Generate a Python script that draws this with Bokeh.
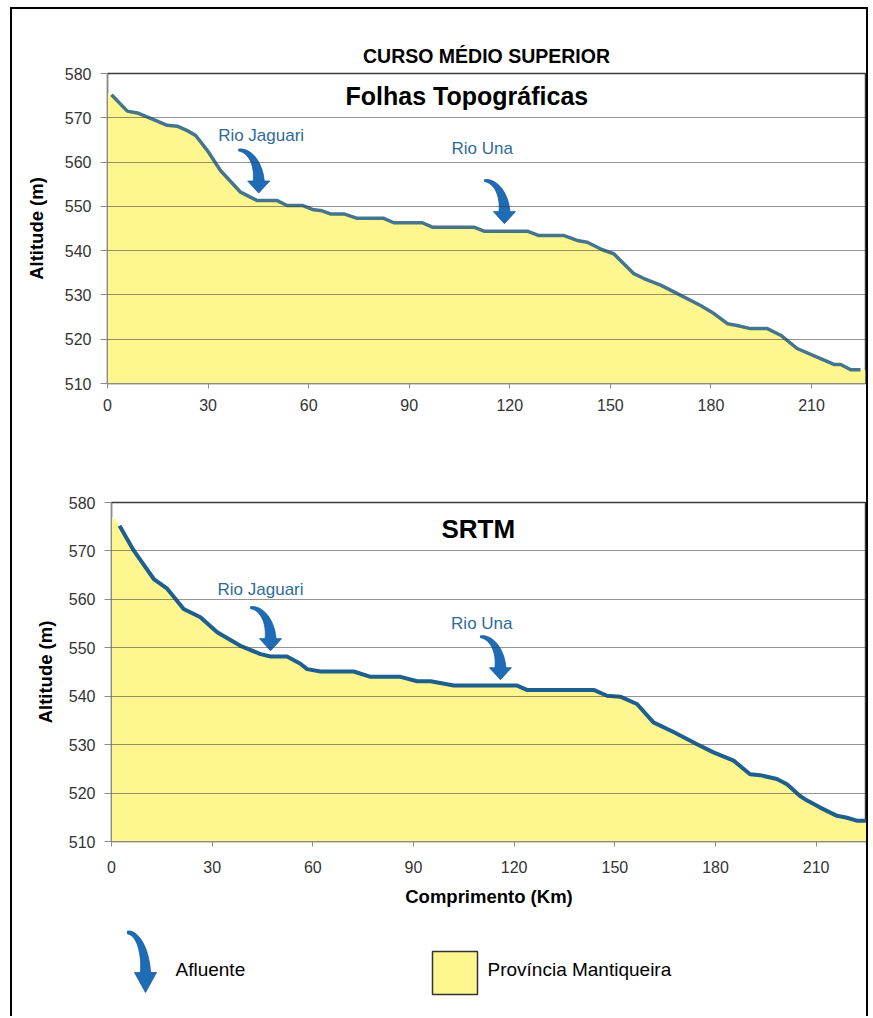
import math
from bokeh.plotting import figure
from bokeh.models import Range1d, Label, FixedTicker
from bokeh.layouts import column
from bokeh.embed import file_html
from bokeh.resources import INLINE

# ---------------- data ----------------
title_text = "CURSO MÉDIO SUPERIOR"
panel_titles = ["Folhas Topográficas", "SRTM"]
tributaries = ["Rio Jaguari", "Rio Una"]
x_ticks = [0, 30, 60, 90, 120, 150, 180, 210]
y_ticks = [510, 520, 530, 540, 550, 560, 570, 580]

# Folhas Topográficas profile (km, m)
topo_km = [1.2, 5.9, 8.9, 14.3, 17.8, 20.8, 23.8, 26.3, 29.8, 33.7, 39.7, 44.7, 50.6,
           53.6, 58.1, 61.1, 64.0, 66.5, 70.5, 74.5, 82.4, 85.4, 93.9, 96.9, 109.3,
           112.3, 125.2, 128.7, 136.2, 140.1, 143.1, 147.6, 151.0, 157.0, 160.0, 165.0,
           171.0, 176.9, 180.9, 184.9, 187.8, 191.8, 196.8, 200.8, 205.7, 212.7, 216.7,
           218.7, 221.7, 224.6]
topo_alt = [575.2, 571.5, 571.1, 569.4, 568.3, 568.1, 567.1, 566.0, 562.6, 558.1, 553.2,
            551.3, 551.3, 550.2, 550.2, 549.3, 549.0, 548.3, 548.3, 547.3, 547.3, 546.3,
            546.3, 545.3, 545.3, 544.4, 544.4, 543.4, 543.4, 542.3, 541.9, 540.2, 539.3,
            534.8, 533.7, 532.2, 529.9, 527.6, 525.8, 523.5, 523.1, 522.4, 522.4, 520.9,
            517.9, 515.6, 514.3, 514.3, 513.1, 513.1]
topo_fill_start = (0.0, 575.6)
topo_fill_end = (226.1, 513.0)

# SRTM profile (km, m)
srtm_km = [2.4, 6.6, 12.6, 16.6, 21.5, 26.5, 31.5, 38.4, 44.4, 47.4, 52.3, 56.3, 58.3,
           62.3, 72.2, 77.2, 86.1, 91.1, 95.1, 102.0, 120.9, 123.8, 143.7, 147.7, 151.6,
           156.6, 161.5, 167.5, 174.5, 179.4, 185.4, 190.3, 193.3, 198.3, 201.3, 205.2,
           207.2, 211.2, 216.2, 219.2, 222.1, 225.1]
srtm_alt = [575.2, 570.1, 564.2, 562.2, 558.0, 556.3, 553.2, 550.4, 548.7, 548.2, 548.2,
            546.7, 545.6, 545.1, 545.1, 544.0, 544.0, 543.1, 543.1, 542.2, 542.2, 541.3,
            541.3, 540.1, 539.9, 538.4, 534.6, 532.6, 530.1, 528.4, 526.7, 523.9, 523.7,
            522.9, 521.8, 519.4, 518.5, 517.0, 515.3, 514.9, 514.3, 514.3]
srtm_fill_start = (0.0, 577.3)
srtm_x_end = 225.0

# tributary confluences (arrow tips) and label anchors
topo_trib_km = [45.1, 118.4]
topo_trib_alt = [553.0, 546.1]
topo_label_km = [33.0, 102.6]
topo_label_alt = [566.1, 563.1]
srtm_trib_km = [47.4, 115.9]
srtm_trib_alt = [549.4, 543.4]
srtm_label_km = [31.6, 101.2]
srtm_label_alt = [562.1, 555.0]

legend_labels = ["Afluente", "Província Mantiqueira"]

# ---------------- style ----------------
FONT = "Liberation Sans"
YELLOW = "#fff68f"
ARROW_BLUE = "#1e6cb5"
LABEL_BLUE = "#2f6b9a"
TICK_COLOR = "#333333"
AXIS_GRAY = "#8c8c8c"


def arrow_patch(tip_x, tip_y, sx, sy, tail=(-20, -43), head_len=12, head_hw=11,
                w0=2.0, w1=11.0, n=28):
    """Curved arrow built in pixel offsets from the tip, converted to data units."""
    tdx, tdy = tail
    cx, cy = tdx, -head_len
    rx, ry = -tdx, -head_len - tdy
    outer, inner = [], []
    for i in range(n + 1):
        t = i / n
        th = (1 - t) * math.pi / 2
        w = w0 + (w1 - w0) * t
        outer.append((cx + (rx + w / 2) * math.cos(th), cy - (ry + w / 2) * math.sin(th)))
        inner.append((cx + (rx - w / 2) * math.cos(th), cy - (ry - w / 2) * math.sin(th)))
    pts = outer + [(head_hw, -head_len), (0, 0), (-head_hw, -head_len)] + inner[::-1]
    xs = [tip_x + px / sx for px, _ in pts]
    ys = [tip_y - py / sy for _, py in pts]
    return xs, ys


def style_chart(p, x_tick_out, x_standoff, y_label_standoff):
    p.xaxis.ticker = FixedTicker(ticks=x_ticks)
    p.yaxis.ticker = FixedTicker(ticks=y_ticks)
    for ax in (p.xaxis, p.yaxis):
        ax.axis_line_color = AXIS_GRAY
        ax.major_tick_line_color = AXIS_GRAY
        ax.minor_tick_line_color = None
        ax.major_tick_in = 0
        ax.major_label_text_font = FONT
        ax.major_label_text_font_size = "16px"
        ax.major_label_text_color = TICK_COLOR
        ax.axis_label_text_font = FONT
        ax.axis_label_text_font_style = "bold"
        ax.axis_label_text_font_size = "18.5px"
        ax.axis_label_text_color = "black"
    p.yaxis.major_tick_out = 7
    p.yaxis.major_label_standoff = 9
    p.yaxis.axis_label = "Altitude (m)"
    p.yaxis.axis_label_standoff = y_label_standoff
    p.xaxis.major_tick_out = x_tick_out
    p.xaxis.major_label_standoff = x_standoff
    p.xgrid.visible = False
    p.ygrid.grid_line_color = "#3c3c3c"
    p.ygrid.grid_line_alpha = 0.55
    p.ygrid.grid_line_width = 1
    p.ygrid.level = "annotation"


def add_tributaries(p, km, alt, lkm, lalt, sx, sy):
    for name, k, a, lk, la in zip(tributaries, km, alt, lkm, lalt):
        xs, ys = arrow_patch(k, a, sx, sy)
        p.patch(xs, ys, fill_color=ARROW_BLUE, line_color="#17599a", line_width=0.8)
        p.add_layout(Label(x=lk, y=la, text=name,
                           text_font=FONT, text_font_size="17px", text_color=LABEL_BLUE,
                           text_align="left", text_baseline="alphabetic"))


# ---------------- top chart ----------------
p1 = figure(frame_width=758, frame_height=310, min_border_left=95, min_border_right=1,
            min_border_top=64, min_border_bottom=57,
            x_range=Range1d(0, topo_fill_end[0]), y_range=Range1d(y_ticks[0], y_ticks[-1]),
            output_backend="svg", toolbar_location=None,
            outline_line_color="#3a3a3a", outline_line_width=1.5)
p1.frame_align = False
style_chart(p1, 5, 10, 15)
p1.title.text = title_text
p1.title.align = "center"
p1.title.offset = -46
p1.title.text_font = FONT
p1.title.text_font_style = "bold"
p1.title.text_font_size = "19.5px"
p1.title.text_color = "black"
p1.title.standoff = 14
tfx = [topo_fill_start[0]] + topo_km + [topo_fill_end[0]]
tfy = [topo_fill_start[1]] + topo_alt + [topo_fill_end[1]]
p1.varea(x=tfx, y1=[y_ticks[0]] * len(tfx), y2=tfy, fill_color=YELLOW)
p1.line(topo_km, topo_alt, line_color="#44758c", line_width=3.5, line_join="round")
sx1, sy1 = 758 / topo_fill_end[0], 310 / 70
add_tributaries(p1, topo_trib_km, topo_trib_alt, topo_label_km, topo_label_alt, sx1, sy1)
p1.add_layout(Label(x=107.2, y=575.0, text=panel_titles[0], text_font=FONT,
                    text_font_style="bold", text_font_size="25px", text_color="black",
                    text_align="center", text_baseline="alphabetic"))

# ---------------- bottom chart ----------------
p2 = figure(frame_width=755, frame_height=339, min_border_left=99, min_border_right=0,
            min_border_top=62, min_border_bottom=79,
            x_range=Range1d(0, srtm_x_end), y_range=Range1d(y_ticks[0], y_ticks[-1]),
            output_backend="svg", toolbar_location=None,
            outline_line_color="#3a3a3a", outline_line_width=1.5)
p2.frame_align = False
style_chart(p2, 5, 14, 10)
p2.xaxis.axis_label = "Comprimento (Km)"
p2.xaxis.axis_label_standoff = 10
sfx = [srtm_fill_start[0]] + srtm_km
sfy = [srtm_fill_start[1]] + srtm_alt
p2.varea(x=sfx, y1=[y_ticks[0]] * len(sfx), y2=sfy, fill_color=YELLOW)
p2.line(srtm_km, srtm_alt, line_color="#1d5f8e", line_width=4, line_join="round")
sx2, sy2 = 755 / srtm_x_end, 339 / 70
add_tributaries(p2, srtm_trib_km, srtm_trib_alt, srtm_label_km, srtm_label_alt, sx2, sy2)
p2.add_layout(Label(x=109.3, y=574.6, text=panel_titles[1], text_font=FONT,
                    text_font_style="bold", text_font_size="26px", text_color="black",
                    text_align="center", text_baseline="alphabetic"))

# ---------------- legend ----------------
p3 = figure(frame_width=854, frame_height=96, x_range=Range1d(0, 854), y_range=Range1d(96, 0),
            output_backend="svg", toolbar_location=None, x_axis_type=None, y_axis_type=None,
            min_border=0, outline_line_color=None)
p3.frame_align = False
p3.grid.visible = False
lx, ly = arrow_patch(133, 72, 1, -1, tail=(-18, -60), head_len=20, head_hw=11, w0=3, w1=10)
p3.patch(lx, ly, fill_color=ARROW_BLUE, line_color="#17599a", line_width=0.8)
p3.quad(left=[420], right=[465], top=[31], bottom=[74], fill_color=YELLOW,
        line_color="#333333", line_width=1.5)
p3.add_layout(Label(x=163, y=49, text=legend_labels[0], text_font=FONT,
                    text_font_size="19px", text_color="black", text_baseline="alphabetic"))
p3.add_layout(Label(x=475, y=49, text=legend_labels[1], text_font=FONT,
                    text_font_size="19px", text_color="black", text_baseline="alphabetic"))

layout = column(p1, p2, p3, spacing=0, margin=(7, 0, 0, 10),
                styles={"border-top": "2px solid black", "border-left": "2px solid black",
                        "border-right": "2px solid black"})

open("out.html", "w").write(file_html(layout, INLINE))
